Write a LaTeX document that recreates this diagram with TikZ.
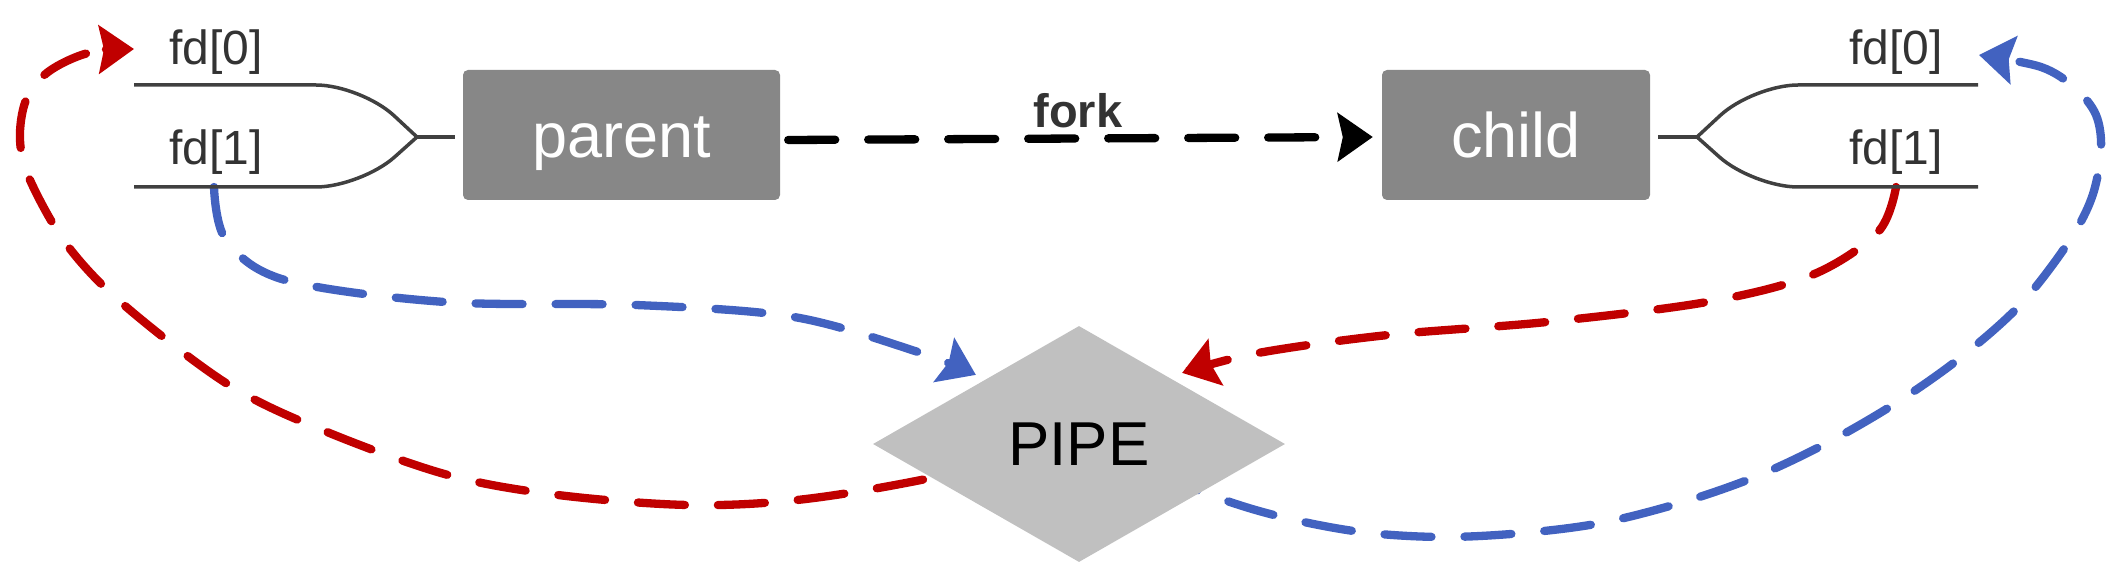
\documentclass[tikz,border=0pt]{standalone}
\usepackage{fontspec}
\setmainfont{Liberation Sans}
\usetikzlibrary{arrows.meta,shapes.geometric}
\pgfdeclarelayer{bg}
\pgfsetlayers{bg,main}
\definecolor{boxgray}{HTML}{878787}
\definecolor{pipegray}{HTML}{C0C0C0}
\definecolor{linegray}{HTML}{404040}
\definecolor{textdark}{HTML}{333333}
\definecolor{pipered}{HTML}{C00000}
\definecolor{pipeblue}{RGB}{66,98,192}
\begin{document}
\begin{tikzpicture}[x=1pt,y=-1pt,
  procbox/.style={rectangle, rounded corners=5pt, fill=boxgray, text=white,
    font=\fontsize{63pt}{70pt}\selectfont, minimum height=130pt,
    text height=50pt, text depth=4pt, inner sep=0pt},
  pipeshape/.style={diamond, fill=pipegray, minimum width=412pt, minimum height=236pt,
    inner sep=0pt, font=\fontsize{62pt}{70pt}\selectfont, text=black},
  fdlab/.style={text=textdark, font=\fontsize{48pt}{56pt}\selectfont, inner sep=0pt, anchor=base},
  forklab/.style={text=textdark, font=\bfseries\fontsize{47pt}{56pt}\selectfont, inner sep=0pt, anchor=base},
  fdline/.style={draw=linegray, line width=3.5pt},
  bigtip/.style={-{Stealth[length=35pt,width=48pt,inset=5pt]}},
  dashline/.style={line width=8.3pt, line cap=round, dash pattern=on 47pt off 33pt, bigtip},
  forkarrow/.style={draw=black, line width=8.3pt, line cap=round, dash pattern=on 47pt off 33pt, bigtip}
]
\useasboundingbox (0,0) rectangle (2124,585);

% nodes
\node[procbox, minimum width=317pt] (parent) at (621.5,135) {parent};
\node[procbox, minimum width=268pt] (child) at (1516,135) {child};
\node[pipeshape] (pipe) at (1079,444) {PIPE};

\node[fdlab] (lfd0) at (216,65) {fd[0]};
\node[fdlab] (lfd1) at (216,165) {fd[1]};
\node[fdlab] (rfd0) at (1896,65) {fd[0]};
\node[fdlab] (rfd1) at (1896,165) {fd[1]};
\node[forklab] (forklbl) at (1078,128) {fork};

% fd lines
\coordinate (LJ) at (417,137);
\coordinate (RJ) at (1697,137);
\draw[fdline, rounded corners=45pt] (134,85) -- (361,85) -- (LJ);
\draw[fdline, rounded corners=45pt] (134,187) -- (361,187) -- (LJ);
\draw[fdline, shorten >=8pt] (LJ) -- (LJ -| parent.west);
\draw[fdline, rounded corners=45pt] (1978,85) -- (1753,85) -- (RJ);
\draw[fdline, rounded corners=45pt] (1978,187) -- (1753,187) -- (RJ);
\draw[fdline, shorten >=8pt] (RJ) -- (RJ -| child.east);

\coordinate (Ltap) at (214,187);
\coordinate (Rtap) at (1896,187);
\coordinate (Ltip) at (134,49);
\coordinate (Rtip) at (1979,55);

% fork
\draw[forkarrow] ([xshift=8pt,yshift=-5pt]parent.east) -- ([xshift=-9pt,yshift=-2pt]child.west);

\begin{pgfonlayer}{bg}
% blue: parent fd[1] -> pipe
\draw[dashline, color=pipeblue] plot[smooth, tension=0.55] coordinates {
  (Ltap) (226,240) (285,280) (445,302) (636,305) (794,317) (918,352) ([yshift=10pt]pipe.north west)};
% red: child fd[1] -> pipe
\draw[dashline, color=pipered] plot[smooth, tension=0.55] coordinates {
  (Rtap) (1878,232) (1812,275) (1707,302) (1547,322) (1388,335) (1258,353) ([yshift=12pt]pipe.north east)};
% red: pipe -> parent fd[0]
\draw[dashline, color=pipered] plot[smooth, tension=0.55] coordinates {
  (pipe.center) (921,480) (797,500) (688,505) (558,495) (448,475) (327,432) (229,385)
  (124,305) (67,245) (30,180) (20,140) (26,100) (48,72) (88,53) (Ltip)};
% blue: pipe -> child fd[0]
\draw[dashline, color=pipeblue] plot[smooth, tension=0.55] coordinates {
  (pipe.center) (1210,495) (1282,517) (1361,532) (1442,537) (1523,533) (1601,523)
  (1680,503) (1755,477) (1827,443) (1896,403) (1960,358) (2020,305) (2068,243)
  (2092,197) (2101,150) (2096,115) (2075,88) (2041,67) (Rtip)};
\end{pgfonlayer}
\end{tikzpicture}
\end{document}
